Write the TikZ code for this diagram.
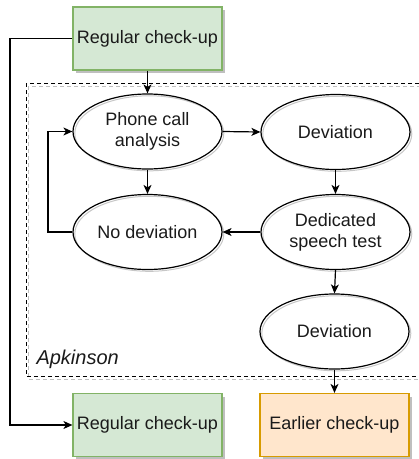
\documentclass[tikz,border=0pt]{standalone}
\usepackage{fontspec}
\setmainfont{Liberation Sans}
\usetikzlibrary{arrows.meta,shapes.geometric}
\definecolor{gfill}{HTML}{D5E8D4}
\definecolor{gline}{HTML}{82B366}
\definecolor{ofill}{HTML}{FFE6CC}
\definecolor{oline}{HTML}{D79B00}
\definecolor{txt}{HTML}{1A1A1A}
\tikzset{
  every node/.style={font=\fontsize{18}{21}\selectfont, text=txt, align=center},
  boxg/.style={rectangle, draw=gline, fill=gfill, line width=1.2pt, minimum width=149pt, minimum height=63pt, inner sep=0pt},
  boxo/.style={rectangle, draw=oline, fill=ofill, line width=1.2pt, minimum width=149pt, minimum height=63pt, inner sep=0pt},
  ell/.style={ellipse, fill=white, line width=1.2pt, minimum width=149pt, minimum height=75pt, inner sep=0pt, outer sep=0.6pt},
  conn/.style={draw=black, line width=1.2pt, -{Stealth[length=9pt,width=8pt,inset=2.5pt]}},
  shad/.style={fill=black!25, draw=none},
  eshad/.style={draw=black!22, line width=1pt},
  eline/.style={draw=black, line width=1.2pt},
}
\begin{document}
\begin{tikzpicture}[x=1pt,y=-1pt]
\useasboundingbox (0,0) rectangle (419,459);
\clip (0,0) rectangle (419,459);
% container
\draw[black!25, line width=1pt, dash pattern=on 4pt off 3pt] (28,86) rectangle (425,379);
\draw[black, line width=1pt, dash pattern=on 4pt off 3pt] (26,83) rectangle (423,376);
\node[font=\fontsize{20}{23}\selectfont\itshape, anchor=west] (apk) at (33,359) {Apkinson};
% shadows of boxes
\fill[shad] (76,10) rectangle (225,73);
\fill[shad] (76,397) rectangle (225,459);
\fill[shad] (263,397) rectangle (412,459);
% boxes
\node[boxg] (top) at (147.5,38.5) {Regular check-up};
\node[boxg] (reg) at (147.5,425) {Regular check-up};
\node[boxo] (ear) at (334.5,425) {Earlier check-up};
% ellipses
\node[ell] (pca) at (147.5,131.5) {Phone call\\analysis};
\node[ell] (dev1) at (335.5,132) {Deviation};
\node[ell] (dst) at (335.5,232) {Dedicated\\speech test};
\node[ell] (nod) at (147.5,232) {No deviation};
\node[ell] (dev2) at (334.5,331.5) {Deviation};
\foreach \n in {pca,dev1,dst,nod,dev2}{
  \draw[eshad] ([shift={(1.8pt,-1.8pt)}]\n.center) ellipse (74.5pt and 37.5pt);
  \draw[eline] (\n.center) ellipse (74.5pt and 37.5pt);
}
% connectors
\path[conn] (top.south) -- (pca.north);
\path[conn] (pca.east) -- (dev1.west);
\path[conn] (dev1.south) -- (dst.north);
\path[conn] (dst.west) -- (nod.east);
\path[conn] (pca.south) -- (nod.north);
\path[conn] (nod.west) -- (48,232) -- (48,131.5) -- (pca.west);
\path[conn] (dst.south) -- (dev2.north);
\path[conn] (dev2.south) -- (ear.north);
\path[conn] (top.west) -- (10,38.5) -- (10,425) -- (reg.west);
\end{tikzpicture}
\end{document}
